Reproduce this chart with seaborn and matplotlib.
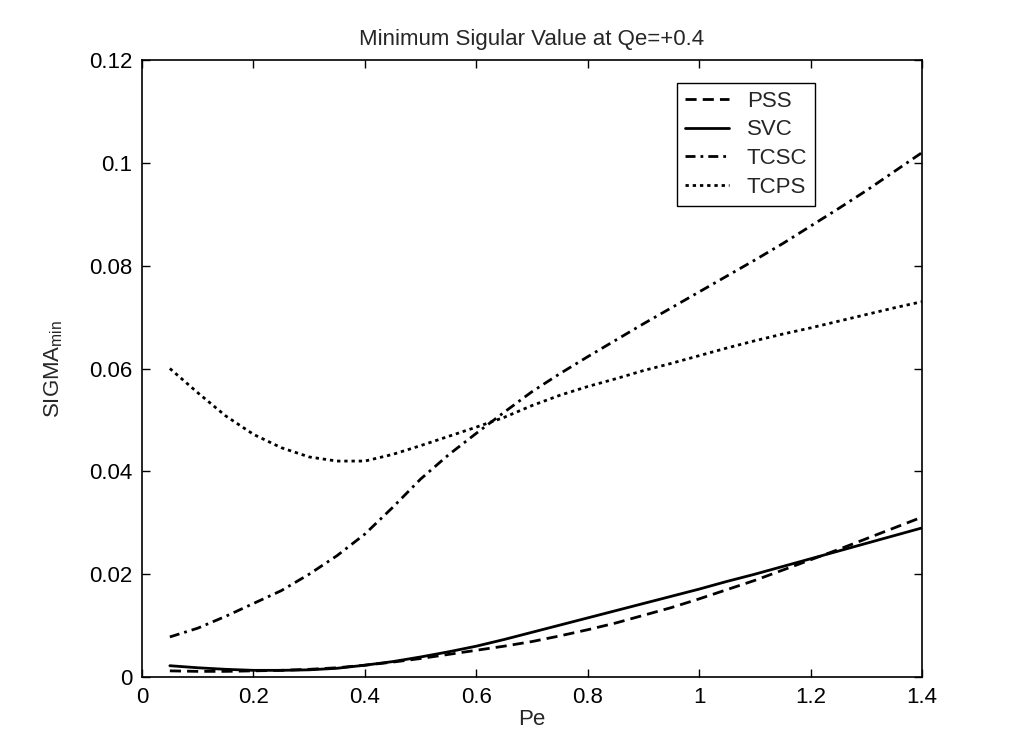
import matplotlib
matplotlib.use("Agg")
import matplotlib.pyplot as plt
import seaborn as sns
import pandas as pd

# Active power operating points
pe = [0.05, 0.10, 0.15, 0.20, 0.25, 0.30, 0.35, 0.40, 0.45, 0.50,
      0.55, 0.60, 0.65, 0.70, 0.75, 0.80, 0.85, 0.90, 0.95, 1.00,
      1.05, 1.10, 1.15, 1.20, 1.25, 1.30, 1.35, 1.40]

# Minimum singular value for each controller
pss = [0.0012, 0.0011, 0.0011, 0.0012, 0.0013, 0.0015, 0.0018, 0.0023, 0.0029, 0.0036,
       0.0044, 0.0052, 0.0060, 0.0069, 0.0080, 0.0092, 0.0105, 0.0120, 0.0135, 0.0152,
       0.0170, 0.0188, 0.0208, 0.0228, 0.0248, 0.0269, 0.0290, 0.0311]
svc = [0.0022, 0.0018, 0.0015, 0.0013, 0.0013, 0.0014, 0.0017, 0.0023, 0.0030, 0.0039,
       0.0049, 0.0060, 0.0073, 0.0087, 0.0101, 0.0115, 0.0129, 0.0143, 0.0157, 0.0171,
       0.0186, 0.0200, 0.0215, 0.0230, 0.0245, 0.0260, 0.0275, 0.0290]
tcsc = [0.0078, 0.0095, 0.0118, 0.0143, 0.0168, 0.0200, 0.0236, 0.0278, 0.0330, 0.0385,
        0.0432, 0.0474, 0.0515, 0.0555, 0.0590, 0.0623, 0.0655, 0.0687, 0.0718, 0.0749,
        0.0780, 0.0811, 0.0843, 0.0877, 0.0911, 0.0946, 0.0983, 0.1020]
tcps = [0.0600, 0.0553, 0.0508, 0.0472, 0.0446, 0.0428, 0.0420, 0.0420, 0.0433, 0.0450,
        0.0468, 0.0486, 0.0505, 0.0528, 0.0548, 0.0565, 0.0580, 0.0596, 0.0610, 0.0625,
        0.0640, 0.0654, 0.0667, 0.0679, 0.0692, 0.0705, 0.0718, 0.0730]

labels = ["PSS", "SVC", "TCSC", "TCPS"]
series = [pss, svc, tcsc, tcps]
styles = [(0, (4.0, 2.2)), "-", (0, (3.6, 1.8, 1.0, 1.8)), (0, (1.2, 1.4))]

sns.set_theme(style="white")
plt.rcParams["font.family"] = ["Liberation Sans", "DejaVu Sans"]
plt.rcParams["mathtext.fontset"] = "custom"
plt.rcParams["mathtext.rm"] = "Liberation Sans"
plt.rcParams["mathtext.it"] = "Liberation Sans"

fs = 16

fig = plt.figure(figsize=(10.1, 7.4), dpi=100)
ax = fig.add_axes([0.1406, 0.0851, 0.7723, 0.8338])

for lab, vals, ls in zip(labels, series, styles):
    df = pd.DataFrame({"Pe": pe, "sigma": vals})
    sns.lineplot(data=df, x="Pe", y="sigma", ax=ax, color="black",
                 linewidth=2.0, linestyle=ls, label=lab)

ax.set_xlim(0, 1.4)
ax.set_ylim(0, 0.12)
ax.set_xticks([0, 0.2, 0.4, 0.6, 0.8, 1.0, 1.2, 1.4])
ax.set_xticklabels(["0", "0.2", "0.4", "0.6", "0.8", "1", "1.2", "1.4"])
ax.set_yticks([0, 0.02, 0.04, 0.06, 0.08, 0.1, 0.12])
ax.set_yticklabels(["0", "0.02", "0.04", "0.06", "0.08", "0.1", "0.12"])

for s in ax.spines.values():
    s.set_visible(True)
    s.set_color("black")
    s.set_linewidth(1.2)

ax.tick_params(axis="both", which="both", direction="in", length=6, width=1.0,
               top=True, right=True, bottom=True, left=True,
               labelsize=fs, colors="black", pad=7)

ax.set_xlabel("Pe", fontsize=fs, labelpad=1)
ax.set_ylabel(r"SIGMA$_{\rm min}$", fontsize=fs, labelpad=17)
ax.set_title("Minimum Sigular Value at Qe=+0.4", fontsize=fs, pad=11)

leg = ax.legend(loc="upper right", bbox_to_anchor=(0.863, 0.963), fontsize=fs,
                frameon=True, fancybox=False, handlelength=2.0, handletextpad=0.8,
                labelspacing=0.35, borderpad=0.35, borderaxespad=0)
leg.get_frame().set_edgecolor("black")
leg.get_frame().set_linewidth(1.0)
leg.get_frame().set_alpha(1)

fig.savefig("out.png", dpi=100, facecolor="white")
